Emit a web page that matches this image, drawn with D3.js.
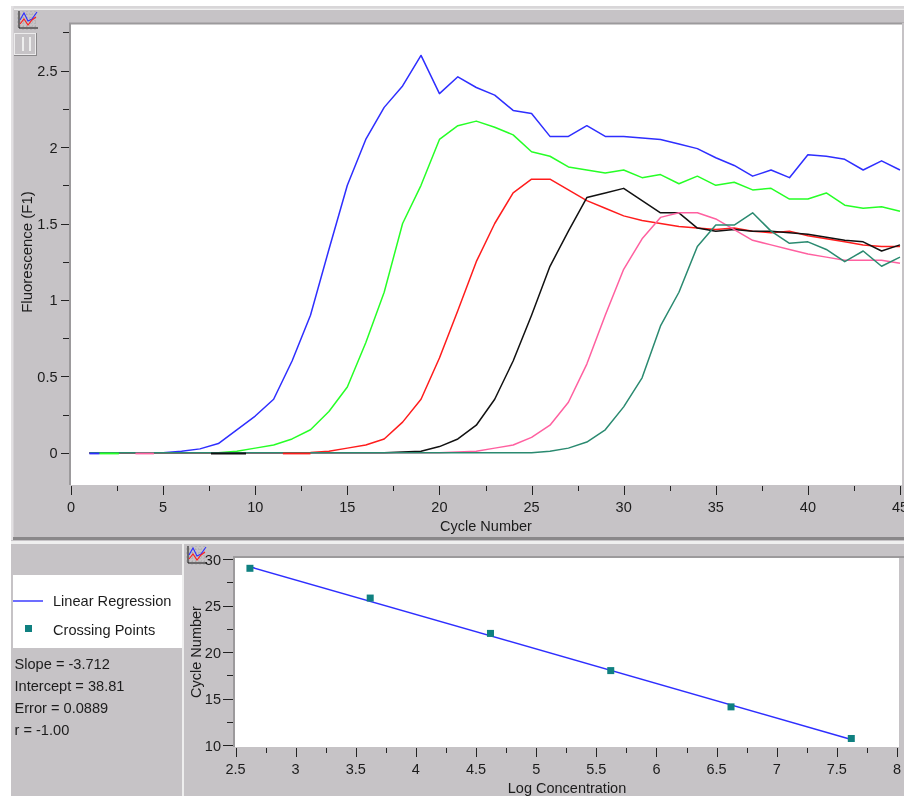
<!DOCTYPE html>
<html><head><meta charset="utf-8">
<style>html,body{margin:0;padding:0;background:#fff}svg{display:block;filter:blur(0.35px)}text{font-family:"Liberation Sans",Arial,sans-serif;fill:#1c1c1c}</style>
<script src="https://cdn.jsdelivr.net/npm/d3@7/dist/d3.min.js"></script>
</head><body><svg id="c" width="904" height="796"></svg>
<script>
// ---- data ----
const cycles = d3.range(1, 46);
const blue  = [0,0,0,0,0,.01,.025,.06,.15,.24,.35,.6,.9,1.33,1.75,2.05,2.26,2.4,2.6,2.35,2.46,2.39,2.34,2.24,2.22,2.07,2.07,2.14,2.07,2.07,2.06,2.05,2.02,1.99,1.93,1.88,1.81,1.85,1.8,1.95,1.94,1.92,1.85,1.91,1.85];
const green = [0,0,0,0,0,0,0,0,.01,.03,.05,.09,.15,.27,.43,.72,1.05,1.5,1.75,2.05,2.14,2.17,2.13,2.08,1.97,1.94,1.87,1.85,1.83,1.85,1.8,1.82,1.76,1.81,1.75,1.77,1.72,1.73,1.66,1.66,1.7,1.62,1.6,1.61,1.58];
const red   = [0,0,0,0,0,0,0,0,0,0,0,0,.002,.01,.03,.05,.09,.2,.35,.62,.93,1.25,1.5,1.7,1.79,1.79,1.72,1.65,1.6,1.55,1.52,1.5,1.48,1.47,1.46,1.47,1.45,1.44,1.45,1.42,1.4,1.38,1.36,1.35,1.35];
const black = [0,0,0,0,0,0,0,0,0,0,0,0,0,0,0,0,0,.005,.01,.04,.09,.18,.35,.6,.9,1.22,1.45,1.67,1.7,1.73,1.65,1.57,1.57,1.47,1.45,1.46,1.45,1.45,1.44,1.43,1.41,1.39,1.38,1.32,1.36];
const pink  = [0,0,0,0,0,0,0,0,0,0,0,0,0,0,0,0,0,0,0,0,.005,.01,.03,.05,.1,.18,.33,.58,.9,1.2,1.4,1.54,1.57,1.57,1.53,1.46,1.39,1.36,1.33,1.3,1.28,1.26,1.26,1.26,1.24];
const teal  = [0,0,0,0,0,0,0,0,0,0,0,0,0,0,0,0,0,0,0,0,0,0,0,0,0,.01,.03,.07,.15,.3,.49,.83,1.05,1.35,1.49,1.49,1.57,1.45,1.37,1.38,1.33,1.25,1.32,1.22,1.28];
const seriesColors = ["#2e2eff","#26ff26","#ff1c1c","#111111","#ff60a0","#2a8a70"];
const seriesList = [blue,green,red,black,pink,teal];
// coloured stubs showing through at the zero line: [series index, from cycle, to cycle]
const zeroStubs = [[0,1,1.55],[1,1.55,2.6],[4,3.5,4.5],[3,7.6,9.5],[2,11.5,13]];
const logConc = [2.62,3.62,4.62,5.62,6.62,7.62];
const crossing = [29,25.8,22,18,14.1,10.7];
const slope = -3.712, intercept = 38.81;
const statLines = ["Slope = -3.712","Intercept = 38.81","Error = 0.0889","r = -1.00"];
const legendLabels = ["Linear Regression","Crossing Points"];

// ---- layout ----
const svg = d3.select("#c");
const GREY="#c6c3c6", AX="#9c9a9c", TICK="#222";
const rect=(x,y,w,h,f)=>svg.append("rect").attr("x",x).attr("y",y).attr("width",w).attr("height",h).attr("fill",f);
const label=(x,y,t,a="middle",s=14.5)=>svg.append("text").attr("x",x).attr("y",y).attr("text-anchor",a).attr("font-size",s).text(t);

// panels
rect(11,6,893,790,GREY);
rect(11,6,893,2.5,"#d8d6d8");
rect(11,6,2.5,534,"#e2e0e2");
rect(14,8.5,890,1.5,"#f0f0f0");
rect(13,537,891,3,"#8a888a");
rect(11,541,893,3,"#efefef");
rect(182,544,2,252,"#eeeeee");

// upper plot
const x1=d3.scaleLinear().domain([0,45]).range([71,900]);
const y1=d3.scaleLinear().domain([0,2.5]).range([452.7,70.7]);
rect(70,24,832,461,"#fff");
rect(69,23,2,462,AX); rect(69,22.5,835,2,AX); rect(902,23,2,463,"#c6c3c6");

const ticks=(vals,sc,orient,pos,len,lenMinor,isMajor)=>{
  vals.forEach(v=>{
    const p=Math.round(sc(v))+.5, L=isMajor(v)?len:lenMinor;
    const l=svg.append("line").attr("stroke",TICK).attr("stroke-width",1);
    if(orient==="b") l.attr("x1",p).attr("x2",p).attr("y1",pos).attr("y2",pos+L);
    else l.attr("y1",p).attr("y2",p).attr("x1",pos-L).attr("x2",pos);
  });
};
const near=(v,m)=>Math.abs(v/m-Math.round(v/m))<1e-6;
ticks(d3.range(0,45.1,2.5),x1,"b",486,9,5,v=>near(v,5));
d3.range(0,46,5).forEach(v=>label(x1(v),512,v));
ticks(d3.range(0,2.76,.25),y1,"l",69,8,6,v=>near(v,.5));
d3.range(0,2.6,.5).forEach(v=>label(57.5,y1(v)+5.5,v,"end"));
label(486,531,"Cycle Number");
svg.append("text").attr("transform","translate(32,252) rotate(-90)").attr("text-anchor","middle").attr("font-size",15).text("Fluorescence (F1)");

// curves
const line1=d3.line().x((d,i)=>x1(cycles[i])).y(d=>y1(d));
seriesList.forEach((s,i)=>svg.append("path").attr("d",line1(s)).attr("fill","none").attr("stroke",seriesColors[i]).attr("stroke-width",1.5).attr("stroke-linejoin","round"));
zeroStubs.forEach(([i,a,b])=>svg.append("line").attr("x1",x1(a)).attr("x2",x1(b)).attr("y1",y1(0)+.8).attr("y2",y1(0)+.8).attr("stroke",seriesColors[i]).attr("stroke-width",1.8));

// lower-left legend and statistics
rect(13,575,169,73,"#fff");
svg.append("line").attr("x1",13).attr("x2",43).attr("y1",601).attr("y2",601).attr("stroke","#2e2eff").attr("stroke-width",1.4);
rect(25,625,7,7,"#0f8080");
label(53,606,legendLabels[0],"start",14.6);
label(53,634.5,legendLabels[1],"start",14.6);
statLines.forEach((t,i)=>label(14.5,668.5+i*22.2,t,"start",14.6));

// lower plot
const x2=d3.scaleLinear().domain([2.5,8]).range([235.5,897]);
const y2=d3.scaleLinear().domain([10,30]).range([745,559]);
rect(234,558,665,189,"#fff");
rect(233,557,2,190,AX); rect(233,556,671,2,AX);
ticks(d3.range(2.5,8.01,.25),x2,"b",748,9,5,v=>near(v,.5));
d3.range(2.5,8.01,.5).forEach(v=>label(x2(v),774,v));
ticks(d3.range(10,30.1,2.5),y2,"l",233,10,6,v=>near(v,5));
d3.range(10,31,5).forEach(v=>label(221,y2(v)+5.5,v,"end"));
label(567,793,"Log Concentration");
svg.append("text").attr("transform","translate(201,652) rotate(-90)").attr("text-anchor","middle").attr("font-size",14.5).text("Cycle Number");
const ends=[logConc[0],logConc[logConc.length-1]];
svg.append("line").attr("x1",x2(ends[0])).attr("x2",x2(ends[1])).attr("y1",y2(slope*(ends[0]-.02)+intercept)).attr("y2",y2(slope*(ends[1]-.02)+intercept)).attr("stroke","#2e2eff").attr("stroke-width",1.5);
svg.selectAll("rect.pt").data(logConc).join("rect").attr("class","pt").attr("x",d=>x2(d)-3.5).attr("y",(d,i)=>y2(crossing[i])-3.5).attr("width",7).attr("height",7).attr("fill","#0f8080");

// toolbar icons
const icon=(ox,oy)=>{
  const g=svg.append("g").attr("transform",`translate(${ox},${oy})`);
  g.append("path").attr("d","M2 0V17H21").attr("fill","none").attr("stroke","#111").attr("stroke-width",1);
  g.append("path").attr("d","M0 3H21M0 7H21M0 11H21M0 15H21M6 0V19M10 0V19M14 0V19M18 0V19").attr("fill","none").attr("stroke","#8a888a").attr("stroke-width",.5).attr("stroke-dasharray","1 2");
  g.append("path").attr("d","M3 9L7 2L11 10L15 8L20 1").attr("fill","none").attr("stroke","#2e2eff").attr("stroke-width",1.1);
  g.append("path").attr("d","M3 13L7 8L11 14L15 9L19 6").attr("fill","none").attr("stroke","#ff1c1c").attr("stroke-width",1.1);
};
icon(17,11); icon(186,546);
rect(14,33,23,23,"#8a888a"); rect(14,33,22,22,"#ecebec"); rect(15,34,20,20,GREY);
rect(22,37,2,14,"#eeeeee"); rect(29,37,2,14,"#eeeeee");
</script></body></html>
